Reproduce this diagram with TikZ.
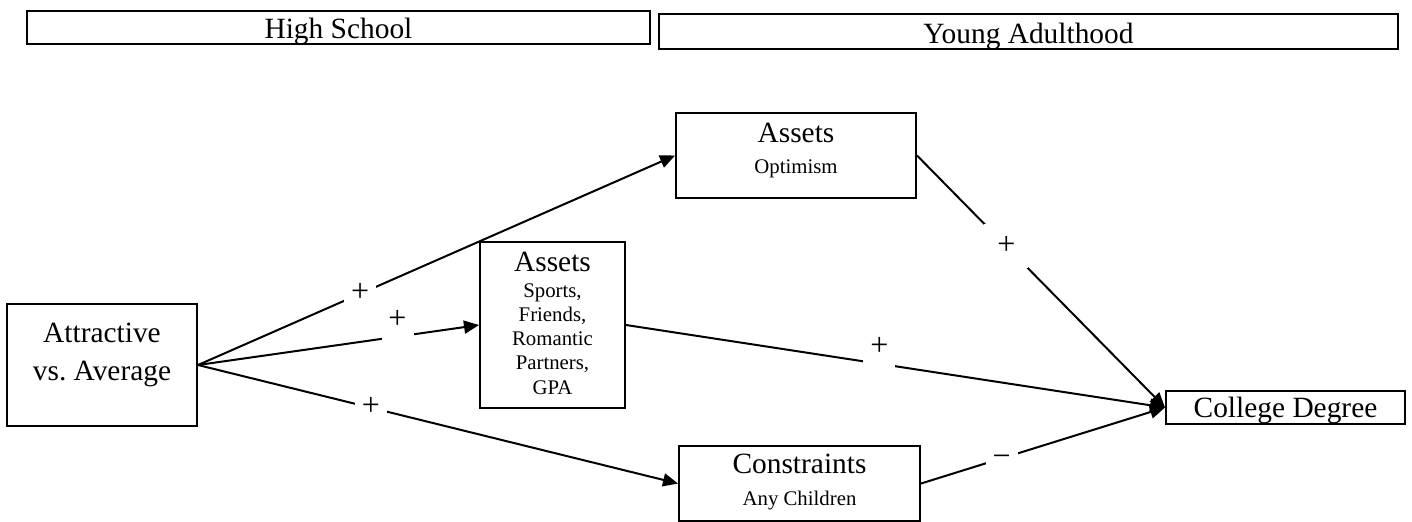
\documentclass[tikz,border=0pt]{standalone}
\usepackage{fontspec}
\setmainfont{Liberation Serif}
\usepackage{tikz}
\usetikzlibrary{arrows.meta}

\begin{document}
\begin{tikzpicture}[x=0.5pt, y=-0.5pt, >={Triangle[length=7.5pt, width=6.5pt]},
  box/.style={draw, line width=1pt, inner sep=0pt, align=center, anchor=north,
    font=\fontsize{14.7}{19}\selectfont},
  period/.style={box, text height=13.5pt, text depth=3pt},
  factor/.style={box, font=\fontsize{10.4}{12.1}\selectfont},
  link/.style={->, line width=1pt},
  sign/.style={fill=white, inner sep=0pt, minimum width=16pt, minimum height=16pt,
    font=\fontsize{16}{16}\selectfont, text height=8pt, text depth=0pt},
  raised sign/.style={sign, text height=0pt, text depth=8pt}]
  % page frame (pixel grid of the figure)
  \useasboundingbox (0,0) rectangle (1412,521);

  % Period headers
  \node[period, minimum width=311.5pt] (hs) at (338.5,10) {High School};
  \node[period, minimum width=369.5pt, text height=14.5pt, text depth=2.75pt] (ya) at (1028.5,13) {Young Adulthood};

  % Predictor and outcome (text height = top to last baseline)
  \node[box, minimum width=95pt, text height=38pt, text depth=23pt] (attr) at (102,303)
    {Attractive\\vs.\ Average};
  \node[box, minimum width=119.5pt, text height=13.35pt, text depth=3.15pt] (deg) at (1285.5,390)
    {College Degree};

  % Mediators
  \node[factor, minimum width=120pt, text height=30pt, text depth=12.5pt] (opt) at (796,112)
    {{\fontsize{14.7}{14}\selectfont Assets}\\[3pt]Optimism};
  \node[factor, minimum width=72.5pt, text height=76pt, text depth=7pt] (act) at (552.5,241)
    {{\fontsize{14.7}{14}\selectfont Assets}\\[0.9pt]Sports,\\Friends,\\Romantic\\Partners,\\GPA};
  \node[factor, minimum width=120.5pt, text height=29.5pt, text depth=8pt] (con) at (799.5,445)
    {{\fontsize{14.7}{14}\selectfont Constraints}\\[3.5pt]Any Children};

  % Paths with signs
  \draw[link] (attr.east) -- node[sign, pos=0.34] (s1) {+} (opt.west);
  \draw[link] (attr.east) -- node[raised sign, pos=0.71] (s2) {+} (act.west);
  \draw[link] (attr.east) -- node[sign, pos=0.36] (s3) {+} (con.west);
  \draw[link] (opt.east) -- node[sign, pos=0.36, minimum width=22pt, minimum height=22pt] (s4) {+} (deg.west);
  \draw[link] (act.east) -- node[raised sign, pos=0.47] (s5) {+} (deg.west);
  \draw[link] (con.east) -- node[sign, pos=0.33] (s6) {−} (deg.west);
\end{tikzpicture}
\end{document}
